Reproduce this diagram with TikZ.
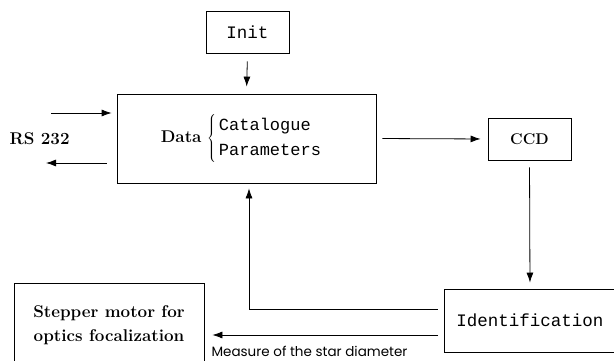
\documentclass[tikz,border=0pt]{standalone}
\usepackage{fontspec}
\setmonofont{Liberation Mono}
\newfontfamily\gothicfont{Poppins}
\usetikzlibrary{arrows.meta,positioning}

\begin{document}
\begin{tikzpicture}[x=1pt,y=-1pt,
      block/.style={
        draw,
        line width=0.8pt,
        inner sep=0pt
      },
      arrow/.style={
        -{Latex[length=10pt,width=7pt]},
        line width=0.8pt
      },
      mono/.style={
        font=\fontsize{17.5}{26}\ttfamily
      },
      serif/.style={
        font=\fontsize{17}{24}\selectfont\bfseries
      }
    ]
    \useasboundingbox (0,0) rectangle (614,361);

    \node[block,mono,minimum width=83pt,minimum height=42pt] (init) at (247.5,32) {Init};
    \node[block,serif,minimum width=259pt,minimum height=89pt] (data) at (246.5,138.5) {%
      Data\,\,$\left\{\,\begin{tabular}{@{}l@{}}\ttfamily\mdseries Catalogue\\[1pt]\ttfamily\mdseries Parameters\end{tabular}\right.$\hspace*{10pt}};
    \node[block,serif,minimum width=83pt,minimum height=42pt] (ccd) at (529.5,139) {\fontsize{15.5}{24}\selectfont CCD};
    \node[block,mono,minimum width=172pt,minimum height=63pt] (ident) at (530,320.5) {Identification};
    \node[block,serif,align=center,minimum width=190pt,minimum height=84pt] (stepper) at (109,325) {Stepper motor for\\optics focalization};
    \node[serif,xshift=-77pt] (rs) at (data.west) {RS 232};

    \draw[arrow,shorten <=8pt,shorten >=7pt] (init.south) -- (data.north);

    \coordinate (rsin) at (51,113);
    \coordinate (rsout) at (46,163);
    \draw[arrow,shorten >=5pt] (rsin) -- (rsin -| data.west);
    \draw[arrow,shorten <=10pt] (data.west |- rsout) -- (rsout);

    \draw[arrow,shorten <=6pt,shorten >=7pt] (data.east) -- (ccd.west);
    \draw[arrow,shorten <=7pt,shorten >=6pt] (ccd.south) -- (ident.north);

    \coordinate (identw) at ([xshift=-6pt]ident.west);
    \coordinate (turn) at (249,309);
    \draw[arrow,shorten >=5pt] (identw |- turn) -- (turn) -- (turn |- data.south);

    \coordinate (meas) at (438,335);
    \draw[arrow,shorten >=8pt] (meas) -- (meas -| stepper.east)
      node[pos=0.55,below=7pt,font=\gothicfont\fontsize{13.5}{15}\selectfont] (measlabel) {Measure of the star diameter};
\end{tikzpicture}
\end{document}
